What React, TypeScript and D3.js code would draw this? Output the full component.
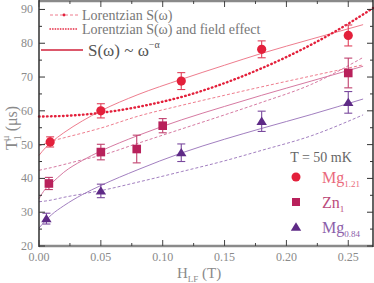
import React from "react";
import * as d3 from "d3";

// ---- data ----
const H_MG121 = [0.009, 0.05, 0.115, 0.18, 0.25];
const T_MG121 = [50.8, 60.0, 68.8, 78.2, 82.3];
const E_MG121 = [1.5, 2.1, 2.5, 2.5, 3.1];

const H_ZN1 = [0.008, 0.05, 0.079, 0.1, 0.25];
const T_ZN1 = [38.5, 47.8, 48.7, 55.6, 71.2];
const E_ZN1 = [1.8, 2.3, 4.1, 2.1, 4.4];

const H_MG084 = [0.006, 0.05, 0.115, 0.18, 0.25];
const T_MG084 = [28.1, 36.3, 47.6, 56.9, 62.5];
const E_MG084 = [1.6, 2.0, 2.6, 3.0, 3.2];

// fit curves
const FIT_H = [0, 0.005, 0.01, 0.02, 0.035, 0.05, 0.08, 0.115, 0.15, 0.18, 0.22, 0.262];
const POW_MG121 = [46.8, 49.0, 50.7, 53.5, 57.0, 60.0, 64.8, 69.3, 73.5, 77.0, 81.2, 85.5];
const LOR_MG121 = [49.6, 50.3, 51.0, 52.0, 53.4, 54.9, 58.4, 61.6, 64.6, 67.1, 70.3, 73.6];
const POW_ZN1 = [34.0, 36.8, 38.5, 41.8, 45.3, 48.1, 52.7, 57.3, 61.3, 64.6, 68.8, 73.2];
const LOR_ZN1 = [42.4, 42.8, 43.2, 44.1, 45.5, 46.8, 50.4, 54.6, 58.8, 62.5, 67.8, 75.8];
const POW_MG084 = [25.3, 27.4, 29.2, 31.9, 35.2, 37.9, 42.6, 47.5, 51.6, 54.8, 58.9, 63.5];
const LOR_MG084 = [33.1, 33.3, 33.6, 34.4, 35.4, 36.4, 38.9, 42.0, 45.2, 48.3, 52.6, 58.8];

const FIELD_H = [0, 0.03, 0.06, 0.09, 0.12, 0.15, 0.18, 0.21, 0.24, 0.27];
const FIELD_T = [58.3, 58.7, 59.9, 61.9, 64.6, 68.2, 72.6, 77.7, 83.6, 90.4];

const X_TICKS = [0, 0.05, 0.1, 0.15, 0.2, 0.25];
const X_MINOR = [0.025, 0.075, 0.125, 0.175, 0.225];
const Y_TICKS = [20, 30, 40, 50, 60, 70, 80, 90];
const Y_MINOR = [25, 35, 45, 55, 65, 75, 85];

const C_RED = "#e3203b";
const C_ZN = "#b8215b";
const C_PUR = "#5e2a86";
const L_RED = "#ee7d8e";
const L_ZN = "#d67aa2";
const L_PUR = "#a27fc0";
const GRAY = "#8a8a8a";
const FONT = '"Liberation Serif", "Times New Roman", "DejaVu Serif", Times, serif';

export default function App() {
  const x = d3.scaleLinear().domain([0, 0.27]).range([39, 373]);
  const y = d3.scaleLinear().domain([20, 92.5]).range([246, 1]);

  const line = d3
    .line<[number, number]>()
    .x((d) => x(d[0]))
    .y((d) => y(d[1]))
    .curve(d3.curveMonotoneX);

  const pts = (hs: number[], ts: number[]) => hs.map((h, i) => [h, ts[i]] as [number, number]);

  const errBars = (hs: number[], ts: number[], es: number[], color: string) =>
    hs.map((h, i) => {
      const cx = x(h);
      const y1 = y(ts[i] + es[i]);
      const y2 = y(ts[i] - es[i]);
      return (
        <g key={"e" + i} stroke={color} strokeWidth={1.1}>
          <line x1={cx} x2={cx} y1={y1} y2={y2} />
          <line x1={cx - 4} x2={cx + 4} y1={y1} y2={y1} />
          <line x1={cx - 4} x2={cx + 4} y1={y2} y2={y2} />
        </g>
      );
    });

  const tri = (cx: number, cy: number, s: number) =>
    `M${cx},${cy - s * 0.9} L${cx + s},${cy + s * 0.7} L${cx - s},${cy + s * 0.7} Z`;

  const T = (p: any) => <text fontFamily={FONT} {...p} />;

  return (
    <svg
      width={374}
      height={283}
      style={{ position: "absolute", left: 0, top: 0, background: "#fff" }}
    >
      {/* fit curves */}
      <path d={line(pts(FIT_H, POW_MG121)) || ""} fill="none" stroke={L_RED} strokeWidth={1} />
      <path d={line(pts(FIT_H, LOR_MG121)) || ""} fill="none" stroke={L_RED} strokeWidth={1} strokeDasharray="3,2" />
      <path d={line(pts(FIT_H, POW_ZN1)) || ""} fill="none" stroke={L_ZN} strokeWidth={1} />
      <path d={line(pts(FIT_H, LOR_ZN1)) || ""} fill="none" stroke={L_ZN} strokeWidth={1} strokeDasharray="3,2" />
      <path d={line(pts(FIT_H, POW_MG084)) || ""} fill="none" stroke={L_PUR} strokeWidth={1} />
      <path d={line(pts(FIT_H, LOR_MG084)) || ""} fill="none" stroke={L_PUR} strokeWidth={1} strokeDasharray="3,2" />
      <path
        d={line(pts(FIELD_H, FIELD_T)) || ""}
        fill="none"
        stroke={C_RED}
        strokeWidth={2.4}
        strokeLinecap="round"
        strokeDasharray="0.6,3.4"
      />

      {/* error bars */}
      {errBars(H_MG121, T_MG121, E_MG121, "#e0405a")}
      {errBars(H_ZN1, T_ZN1, E_ZN1, "#c0406e")}
      {errBars(H_MG084, T_MG084, E_MG084, "#7a4a9e")}

      {/* markers */}
      {H_MG121.map((h, i) => (
        <circle key={"c" + i} cx={x(h)} cy={y(T_MG121[i])} r={4.6} fill={C_RED} />
      ))}
      {H_ZN1.map((h, i) => (
        <rect key={"s" + i} x={x(h) - 4.3} y={y(T_ZN1[i]) - 4.3} width={8.6} height={8.6} fill={C_ZN} />
      ))}
      {H_MG084.map((h, i) => (
        <path key={"t" + i} d={tri(x(h), y(T_MG084[i]), 5.2)} fill={C_PUR} />
      ))}

      {/* axes frame */}
      <line x1={39} x2={373} y1={246} y2={246} stroke={GRAY} strokeWidth={2.5} />
      <line x1={39} x2={373} y1={1} y2={1} stroke={GRAY} strokeWidth={2.5} />
      <line x1={39} x2={39} y1={0} y2={247} stroke="#222" strokeWidth={1.4} />
      <line x1={373} x2={373} y1={0} y2={247} stroke="#222" strokeWidth={1.4} />

      {/* x ticks */}
      {X_TICKS.map((t) => (
        <g key={"xt" + t} stroke="#444" strokeWidth={1}>
          <line x1={x(t)} x2={x(t)} y1={246} y2={240} />
          <line x1={x(t)} x2={x(t)} y1={1} y2={7} />
        </g>
      ))}
      {X_MINOR.map((t) => (
        <g key={"xm" + t} stroke="#444" strokeWidth={1}>
          <line x1={x(t)} x2={x(t)} y1={246} y2={243} />
          <line x1={x(t)} x2={x(t)} y1={1} y2={4} />
        </g>
      ))}
      {X_TICKS.map((t) => (
        <T key={"xl" + t} x={x(t)} y={261} textAnchor="middle" fontSize={12} fill={GRAY}>
          {t.toFixed(2)}
        </T>
      ))}

      {/* y ticks */}
      {Y_TICKS.map((t) => (
        <g key={"yt" + t} stroke="#333" strokeWidth={1}>
          <line x1={39} x2={45} y1={y(t)} y2={y(t)} />
          <line x1={373} x2={367} y1={y(t)} y2={y(t)} />
        </g>
      ))}
      {Y_MINOR.map((t) => (
        <g key={"ym" + t} stroke="#333" strokeWidth={1}>
          <line x1={39} x2={42} y1={y(t)} y2={y(t)} />
          <line x1={373} x2={370} y1={y(t)} y2={y(t)} />
        </g>
      ))}
      {Y_TICKS.map((t) => (
        <T key={"yl" + t} x={33} y={y(t) + 4} textAnchor="end" fontSize={12} fill={GRAY}>
          {t}
        </T>
      ))}

      {/* axis titles */}
      <T x={177} y={278} fontSize={15} fill={GRAY}>
        H<tspan fontSize={9} dy={4}>LF</tspan>
        <tspan dy={-4}> (T)</tspan>
      </T>
      <T transform="translate(17,150) rotate(-90)" fontSize={16} fill={GRAY}>
        T<tspan fontSize={10} dy={4}>1</tspan>
        <tspan fontSize={11} dx={-6} dy={-12}>μ</tspan>
        <tspan dy={8}> (μs)</tspan>
      </T>

      {/* top-left legend */}
      <line x1={50} x2={78} y1={15} y2={15} stroke={L_RED} strokeWidth={1} strokeDasharray="3,2" />
      <circle cx={64} cy={15} r={1.4} fill={C_RED} />
      <T x={82} y={20} fontSize={14} fill="#777">
        Lorentzian S(ω)
      </T>
      <line
        x1={50}
        x2={78}
        y1={29}
        y2={29}
        stroke={C_RED}
        strokeWidth={1.5}
        strokeLinecap="round"
        strokeDasharray="0.4,2.2"
      />
      <T x={82} y={34} fontSize={14} fill="#777">
        Lorentzian S(ω) and field effect
      </T>
      <line x1={41} x2={83} y1={50} y2={50} stroke="#d0203a" strokeWidth={1.5} />
      <T x={88} y={56} fontSize={17} fill="#555">
        S(ω) ~ ω<tspan fontSize={10} dy={-8}>−α</tspan>
      </T>

      {/* bottom-right legend */}
      <T x={321} y={162} textAnchor="middle" fontSize={14} fill="#666">
        T = 50 mK
      </T>
      <circle cx={296} cy={177} r={4.5} fill={C_RED} />
      <rect x={292} y={198} width={8} height={8} fill={C_ZN} />
      <path d={tri(296, 227, 5.2)} fill={C_PUR} />
      <T x={322} y={183} fontSize={16} fill="#ea6a7c">
        Mg<tspan fontSize={9} dy={4}>1.21</tspan>
      </T>
      <T x={322} y={208} fontSize={16} fill="#bb4c7c">
        Zn<tspan fontSize={9} dy={4}>1</tspan>
      </T>
      <T x={322} y={233} fontSize={16} fill="#8c60aa">
        Mg<tspan fontSize={9} dy={4}>0.84</tspan>
      </T>
    </svg>
  );
}
